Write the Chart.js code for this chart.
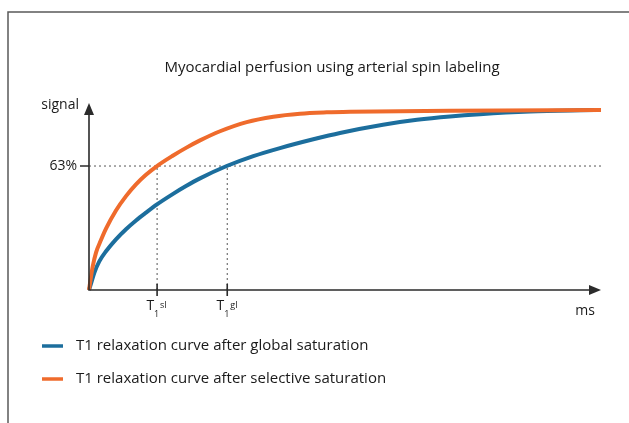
<!DOCTYPE html>
<html>
<head>
<meta charset="utf-8">
<script src="https://cdn.jsdelivr.net/npm/chart.js@4"></script>
<style>
  html, body { margin: 0; padding: 0; background: #fff; }
  #wrap { width: 629px; height: 423px; }
</style>
</head>
<body>
<div id="wrap"><canvas id="relaxChart" width="629" height="423"></canvas></div>
<script>
const chartTitle = "Myocardial perfusion using arterial spin labeling";
const seriesLabels = [
  "T1 relaxation curve after global saturation",
  "T1 relaxation curve after selective saturation",
];

// time axis (arbitrary ms units, 0..100) and signal (0..100)
const globalX = [0, 0.39, 1.04, 2.01, 3.32, 5.27, 7.23, 9.18, 11.13, 13.28, 16.35, 18.95, 21.68, 26.89, 32.09, 37.3, 43.81, 49.02, 57.42, 64.06, 70.51, 76.37, 86.13, 95.9, 100];
const globalY = [0, 3.4, 9.2, 15.3, 20.7, 27.1, 32.5, 37.2, 41.4, 45.8, 51.3, 55.6, 59.7, 66.3, 71.6, 75.9, 80.6, 84.0, 88.4, 91.0, 92.8, 94.0, 95.4, 96.1, 96.3];

const selectiveX = [0, 0.39, 0.72, 1.37, 2.34, 3.32, 5.27, 7.23, 9.18, 11.13, 13.28, 16.35, 18.95, 21.68, 25.59, 30.8, 36.0, 41.21, 46.43, 50.98, 70.51, 100];
const selectiveY = [0, 7.1, 12.5, 20.0, 26.7, 32.8, 42.5, 50.2, 56.5, 61.6, 66.3, 71.8, 76.0, 80.0, 84.9, 89.8, 92.7, 94.3, 95.0, 95.3, 95.8, 96.3];

const thresholdValue = 66.3;
const thresholdLabel = "63%";
const t1Positions = [13.3, 27.0];
const t1Superscripts = ["sl", "gl"];
const yAxisLabel = "signal";
const xAxisLabel = "ms";

const blue = "#1c6e9d";
const orange = "#ef6b2c";
const ink = "#2b2b2b";
const fontFamily = "'Open Sans', 'Noto Sans', sans-serif";

function toPoints(xs, ys) {
  return xs.map((x, i) => ({ x: x, y: ys[i] }));
}

const refLine = (pts) => ({
  data: pts,
  borderColor: "#555",
  borderWidth: 1,
  borderDash: [2, 3],
  pointRadius: 0,
  fill: false,
  order: 3,
  clip: false,
});

const datasets = [
  refLine([{ x: 0, y: thresholdValue }, { x: 100, y: thresholdValue }]),
  ...t1Positions.map((t) => refLine([{ x: t, y: 0 }, { x: t, y: thresholdValue }])),
  {
    label: seriesLabels[0],
    data: toPoints(globalX, globalY),
    borderColor: blue,
    borderWidth: 4,
    pointRadius: 0,
    cubicInterpolationMode: "monotone",
    fill: false,
    order: 1,
    clip: false,
  },
  {
    label: seriesLabels[1],
    data: toPoints(selectiveX, selectiveY),
    borderColor: orange,
    borderWidth: 4,
    pointRadius: 0,
    cubicInterpolationMode: "monotone",
    fill: false,
    order: 0,
    clip: false,
  },
];

const decorations = {
  id: "decorations",
  afterDraw(chart) {
    const ctx = chart.ctx;
    const xs = chart.scales.x;
    const ys = chart.scales.y;
    const x0 = xs.getPixelForValue(0);
    const x1 = xs.getPixelForValue(100);
    const y0 = ys.getPixelForValue(0);
    const y1 = ys.getPixelForValue(100);
    ctx.save();

    // frame (top and left edge)
    ctx.strokeStyle = "#5a5a5a";
    ctx.lineWidth = 1.5;
    ctx.beginPath();
    ctx.moveTo(8, 423);
    ctx.lineTo(8, 12);
    ctx.lineTo(629, 12);
    ctx.stroke();

    // title
    ctx.fillStyle = "#1a1a1a";
    ctx.font = "15px " + fontFamily;
    ctx.textAlign = "center";
    ctx.textBaseline = "middle";
    ctx.fillText(chartTitle, 332, 68);

    // axes
    ctx.strokeStyle = ink;
    ctx.fillStyle = ink;
    ctx.lineWidth = 1.6;
    ctx.beginPath();
    ctx.moveTo(x0, y1 + 6);
    ctx.lineTo(x0, y0);
    ctx.lineTo(x1 - 6, y0);
    ctx.stroke();
    ctx.beginPath();
    ctx.moveTo(x0, y1);
    ctx.lineTo(x0 - 5, y1 + 12);
    ctx.lineTo(x0 + 5, y1 + 12);
    ctx.closePath();
    ctx.fill();
    ctx.beginPath();
    ctx.moveTo(x1, y0);
    ctx.lineTo(x1 - 12, y0 - 5);
    ctx.lineTo(x1 - 12, y0 + 5);
    ctx.closePath();
    ctx.fill();

    // threshold tick + T1 ticks
    const yt = ys.getPixelForValue(thresholdValue);
    ctx.beginPath();
    ctx.moveTo(x0 - 9, yt);
    ctx.lineTo(x0, yt);
    t1Positions.forEach((t) => {
      const px = xs.getPixelForValue(t);
      ctx.moveTo(px, y0 - 6);
      ctx.lineTo(px, y0 + 6);
    });
    ctx.stroke();

    // axis texts
    ctx.fillStyle = "#1a1a1a";
    ctx.font = "14px " + fontFamily;
    ctx.textAlign = "right";
    ctx.fillText(yAxisLabel, x0 - 10, y1 + 2);
    ctx.fillText(thresholdLabel, x0 - 12, yt);
    ctx.textAlign = "center";
    ctx.fillText(xAxisLabel, x1 - 16, y0 + 21);

    ctx.textBaseline = "alphabetic";
    t1Positions.forEach((t, i) => {
      const px = xs.getPixelForValue(t);
      ctx.textAlign = "right";
      ctx.font = "14px " + fontFamily;
      ctx.fillText("T", px - 3, y0 + 20);
      ctx.textAlign = "left";
      ctx.font = "9px " + fontFamily;
      ctx.fillText("1", px - 3, y0 + 27);
      ctx.fillText(t1Superscripts[i], px + 3, y0 + 18);
    });

    // legend
    const legendY = [346, 379];
    const legendColors = [blue, orange];
    ctx.font = "15px " + fontFamily;
    ctx.textAlign = "left";
    ctx.textBaseline = "middle";
    legendY.forEach((ly, i) => {
      ctx.strokeStyle = legendColors[i];
      ctx.lineWidth = 3.5;
      ctx.beginPath();
      ctx.moveTo(42, ly);
      ctx.lineTo(63, ly);
      ctx.stroke();
      ctx.fillStyle = "#1a1a1a";
      ctx.fillText(seriesLabels[i], 76, ly);
    });

    ctx.restore();
  },
};

new Chart(document.getElementById("relaxChart").getContext("2d"), {
  type: "line",
  data: { datasets: datasets },
  options: {
    responsive: false,
    animation: false,
    layout: { padding: { left: 89, right: 28, top: 103, bottom: 133 } },
    scales: {
      x: { type: "linear", min: 0, max: 100, display: false },
      y: { min: 0, max: 100, display: false },
    },
    plugins: {
      legend: { display: false },
      tooltip: { enabled: false },
    },
  },
  plugins: [decorations],
});
</script>
</body>
</html>
